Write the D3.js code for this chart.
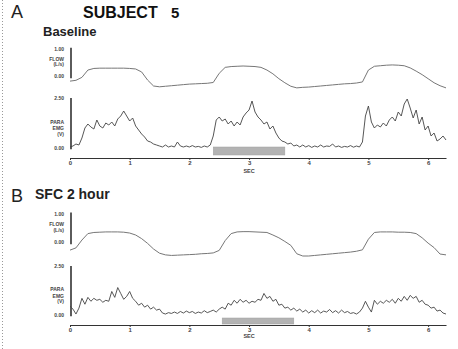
<!DOCTYPE html>
<html>
<head>
<meta charset="utf-8">
<script src="https://cdn.jsdelivr.net/npm/d3@7"></script>
<style>
  body { margin: 0; background: #fff; }
  svg { display: block; font-family: "Liberation Sans", Arial, sans-serif; }
</style>
</head>
<body>
<svg id="chart" width="458" height="349"></svg>
<script>

// seconds on the time axis
var xTicks = [0, 1, 2, 3, 4, 5, 6];
var flowStep = 0.1, emgStep = 0.05;

// airflow, L/s, sampled every 0.1 s
var flowA = [-0.19,-0.16,-0.05,0.22,0.28,0.29,0.29,0.29,0.29,0.29,0.28,0.26,0.15,-0.15,-0.37,-0.40,-0.38,-0.36,-0.34,-0.32,-0.30,-0.29,-0.28,-0.27,-0.24,0.10,0.32,0.35,0.36,0.37,0.36,0.35,0.32,0.22,0.08,-0.10,-0.25,-0.38,-0.44,-0.42,-0.41,-0.39,-0.37,-0.35,-0.33,-0.31,-0.29,-0.28,-0.26,-0.22,0.22,0.36,0.38,0.40,0.41,0.40,0.38,0.30,0.18,0.05,-0.10,-0.25,-0.36,-0.44];
var flowB = [-0.29,-0.21,0.07,0.30,0.34,0.35,0.36,0.36,0.36,0.35,0.32,0.25,0.12,-0.05,-0.25,-0.40,-0.46,-0.48,-0.47,-0.46,-0.45,-0.44,-0.42,-0.41,-0.39,-0.30,0.05,0.30,0.36,0.37,0.37,0.36,0.35,0.34,0.25,0.15,0.02,-0.12,-0.42,-0.50,-0.50,-0.48,-0.46,-0.44,-0.42,-0.40,-0.38,-0.36,-0.33,-0.28,0.10,0.34,0.36,0.36,0.36,0.35,0.35,0.34,0.30,0.15,-0.04,-0.20,-0.43,-0.46];

// parasternal EMG, V, sampled every 0.05 s
var emgA = [0.05,0.10,0.20,0.15,0.50,1.00,1.20,1.05,0.95,1.40,
  1.10,1.00,1.25,1.15,1.30,1.10,1.45,1.60,1.85,1.60,
  1.35,1.50,1.10,0.90,0.70,0.55,0.35,0.30,0.20,0.15,
  0.10,0.05,0.15,0.05,0.10,0.05,0.30,0.10,0.05,0.10,
  0.05,0.12,0.05,0.08,0.03,0.10,0.05,0.15,0.60,1.40,
  1.55,1.35,1.45,1.20,1.35,1.10,1.30,1.15,1.55,1.75,
  1.90,2.35,1.80,1.55,1.40,1.20,1.30,0.95,1.10,0.75,
  0.50,0.35,0.30,0.20,0.25,0.10,0.15,0.05,0.15,0.05,
  0.12,0.03,0.10,0.05,0.15,0.05,0.10,0.08,0.20,0.05,
  0.10,0.03,0.08,0.05,0.12,0.04,0.10,0.05,0.30,1.60,
  2.10,1.30,1.00,1.15,1.05,1.25,1.10,1.40,1.55,1.35,
  1.80,1.60,2.20,2.45,2.00,1.50,1.90,1.20,1.55,0.90,
  1.10,0.60,0.75,0.35,0.45,0.60,0.40];
var emgB = [0.45,0.30,0.05,0.35,0.85,0.55,0.90,0.70,0.85,0.75,
  0.80,0.65,0.75,0.70,1.20,0.90,1.40,1.10,0.80,0.95,
  1.20,0.85,0.70,0.50,0.60,0.40,0.50,0.30,0.40,0.25,
  0.30,0.10,0.05,0.12,0.08,0.15,0.08,0.18,0.10,0.20,
  0.12,0.18,0.08,0.15,0.10,0.22,0.12,0.18,0.25,0.15,
  0.30,0.40,0.30,0.60,0.50,0.75,0.60,0.80,0.65,0.75,
  0.60,0.70,0.65,0.80,0.75,1.10,0.85,0.95,0.70,0.80,
  0.50,0.55,0.35,0.40,0.25,0.35,0.20,0.30,0.15,0.25,
  0.10,0.22,0.12,0.25,0.10,0.20,0.15,0.28,0.12,0.22,
  0.10,0.25,0.12,0.18,0.08,0.12,0.05,0.15,0.35,0.70,
  0.40,0.15,0.75,0.55,0.70,0.60,0.75,0.65,0.80,0.60,
  0.85,0.70,0.95,0.75,1.00,0.85,0.95,0.65,0.75,0.55,
  0.50,0.35,0.40,0.20,0.25,0.10,0.05];

// stimulus bars, seconds
var barA = [2.4, 3.6];
var barB = [2.55, 3.75];

var svg = d3.select("#chart");

// dotted left border
svg.append("line")
  .attr("x1", 2.5).attr("x2", 2.5).attr("y1", 0).attr("y2", 349)
  .attr("stroke", "#999").attr("stroke-dasharray", "1,2");

var x = d3.scaleLinear().domain([0, 6.3]).range([70, 446]);

function drawPanel(p) {
  var g = svg.append("g");
  var yF = d3.scaleLinear().domain([0, 1]).range(p.flowY);
  var yE = d3.scaleLinear().domain([0, 2.5]).range(p.emgY);

  g.append("text").attr("x", 11).attr("y", p.letterY)
    .attr("font-size", 18).attr("fill", "#222").text(p.letter);
  g.append("text").attr("x", p.titleX).attr("y", p.titleY)
    .attr("font-size", p.titleSize).attr("font-weight", "bold").attr("fill", "#222").text(p.title);

  // scale bars
  g.append("line").attr("x1", 71).attr("x2", 71)
    .attr("y1", yF(1.05)).attr("y2", yF(-0.08))
    .attr("stroke", "#333").attr("stroke-width", 1.6);
  g.append("line").attr("x1", 71).attr("x2", 71)
    .attr("y1", yE(2.5)).attr("y2", yE(-0.06))
    .attr("stroke", "#333").attr("stroke-width", 1.6);

  var lab = function(y, t) {
    g.append("text").attr("x", 64).attr("y", y).attr("text-anchor", "end")
      .attr("font-size", 5).attr("font-weight", "bold").attr("fill", "#444").text(t);
  };
  lab(yF(1) + 2, "1.00");
  lab(yF(0.56), "FLOW");
  lab(yF(0.36), "(L/s)");
  lab(yF(0) + 2, "0.00");
  lab(yE(2.5) + 2, "2.50");
  lab(yE(1.2), "PARA");
  lab(yE(0.88), "EMG");
  lab(yE(0.62), "(V)");
  lab(yE(0) + 2, "0.00");

  // stimulus bar
  g.append("rect").attr("x", x(p.bar[0])).attr("width", x(p.bar[1]) - x(p.bar[0]))
    .attr("y", p.barY[0]).attr("height", p.barY[1] - p.barY[0])
    .attr("fill", "#b3b3b3").attr("stroke", "#a0a0a0").attr("stroke-width", 0.5);

  var flowLine = d3.line().x(function(d, i) { return x(i * flowStep); }).y(function(d) { return yF(d); });
  var emgLine = d3.line().x(function(d, i) { return x(i * emgStep); }).y(function(d) { return yE(d); });

  g.append("path").datum(p.flow).attr("d", flowLine)
    .attr("fill", "none").attr("stroke", "#777").attr("stroke-width", 1);
  g.append("path").datum(p.emg).attr("d", emgLine)
    .attr("fill", "none").attr("stroke", "#444").attr("stroke-width", 0.9);

  var ax = g.append("g").attr("transform", "translate(0," + p.axisY + ")")
    .call(d3.axisBottom(x).tickValues(xTicks).tickSize(2).tickSizeOuter(0).tickFormat(d3.format("d")));
  ax.select(".domain").attr("stroke", "#333").attr("stroke-width", 1.2);
  ax.selectAll(".tick line").attr("stroke", "#333");
  ax.selectAll(".tick text").attr("font-size", 6).attr("font-weight", "bold")
    .attr("fill", "#444").attr("font-family", "Liberation Sans, Arial, sans-serif").attr("dy", "0.3em");

  g.append("text").attr("x", x(3)).attr("y", p.axisY + p.secDy).attr("text-anchor", "middle")
    .attr("font-size", 5.5).attr("font-weight", "bold").attr("fill", "#444").text("SEC");
}

svg.append("text").attr("x", 83).attr("y", 18).attr("font-size", 16).attr("font-weight", "bold")
  .attr("fill", "#111").text("SUBJECT");
svg.append("text").attr("x", 171).attr("y", 18).attr("font-size", 15).attr("font-weight", "bold")
  .attr("fill", "#111").text("5");

drawPanel({ letter: "A", letterY: 18, title: "Baseline", titleX: 43, titleY: 36, titleSize: 13,
  flowY: [76, 49], emgY: [148, 98], axisY: 158, secDy: 15,
  bar: barA, barY: [147, 155], flow: flowA, emg: emgA });

drawPanel({ letter: "B", letterY: 202, title: "SFC 2 hour", titleX: 35, titleY: 199, titleSize: 14,
  flowY: [242, 214], emgY: [315, 266], axisY: 325, secDy: 13,
  bar: barB, barY: [318, 324], flow: flowB, emg: emgB });

</script>
</body>
</html>
